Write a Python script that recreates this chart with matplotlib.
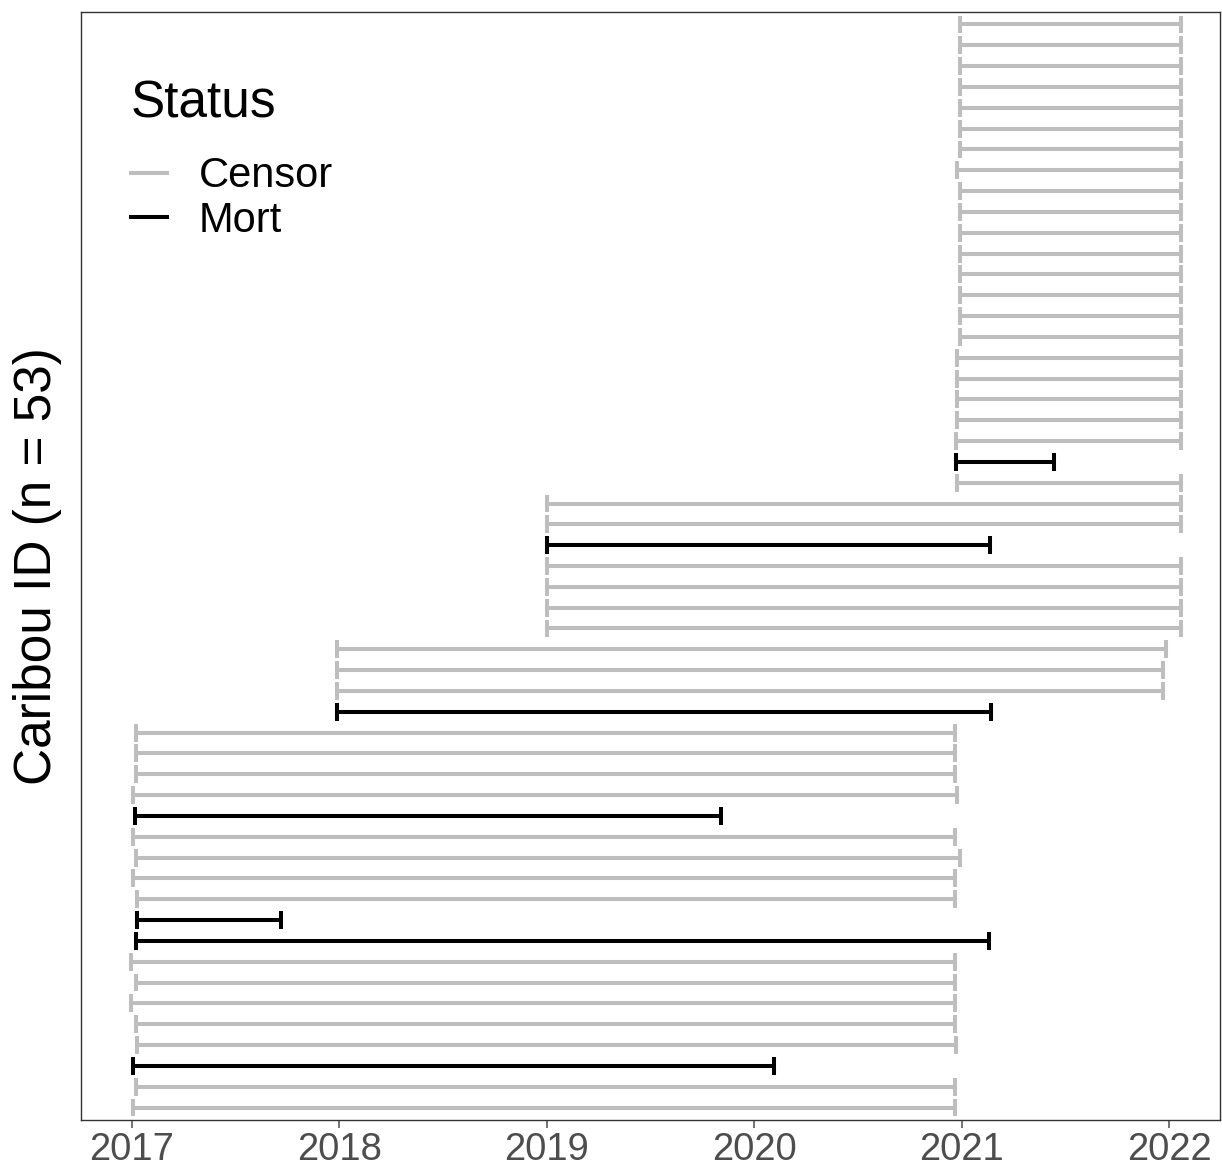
import numpy as np
import matplotlib.pyplot as plt
from matplotlib.lines import Line2D

plt.rcParams['font.family'] = ['Liberation Sans', 'DejaVu Sans']

# collar periods (decimal years), listed from the top row to the bottom row
start = [2020.99, 2020.99, 2020.99, 2020.99, 2020.99, 2020.99, 2020.99, 2020.98,
         2020.99, 2020.99, 2020.99, 2020.99, 2020.99, 2020.99, 2020.99, 2020.99,
         2020.98, 2020.98, 2020.98, 2020.98, 2020.975, 2020.975, 2020.98,
         2019.00, 2019.00, 2019.00, 2019.00, 2019.00, 2019.00, 2019.00,
         2017.99, 2017.99, 2017.99, 2017.99,
         2017.02, 2017.02, 2017.02, 2017.005, 2017.014, 2017.005, 2017.02, 2017.005,
         2017.024, 2017.024, 2017.019, 2016.995, 2017.019, 2016.995, 2017.019,
         2017.024, 2017.005, 2017.019, 2017.005]
end = [2022.06] * 21 + [2021.445, 2022.06,
       2022.06, 2022.06, 2021.135, 2022.06, 2022.06, 2022.06, 2022.06,
       2021.985, 2021.97, 2021.97, 2021.14,
       2020.97, 2020.97, 2020.97, 2020.98, 2019.838, 2020.97, 2020.99, 2020.97,
       2020.97, 2017.719, 2021.131, 2020.97, 2020.97, 2020.97, 2020.97,
       2020.975, 2020.094, 2020.97, 2020.97]
status = ['Censor'] * 21 + ['Mort', 'Censor',
          'Censor', 'Censor', 'Mort', 'Censor', 'Censor', 'Censor', 'Censor',
          'Censor', 'Censor', 'Censor', 'Mort',
          'Censor', 'Censor', 'Censor', 'Censor', 'Mort', 'Censor', 'Censor', 'Censor',
          'Censor', 'Mort', 'Mort', 'Censor', 'Censor', 'Censor', 'Censor',
          'Censor', 'Mort', 'Censor', 'Censor']
years = [2017, 2018, 2019, 2020, 2021, 2022]

colors = {'Censor': '#BEBEBE', 'Mort': '#000000'}
n = len(start)
rows = np.arange(n, 0, -1)

fig = plt.figure(figsize=(12.22, 11.68), dpi=100)
ax = fig.add_axes([81/1222, 1 - 1120/1168, (1220-81)/1222, (1120-12)/1168])

for s in ['Censor', 'Mort']:
    idx = [i for i in range(n) if status[i] == s]
    y = rows[idx]
    x0 = np.array(start)[idx]
    x1 = np.array(end)[idx]
    z = 2 if s == 'Censor' else 3
    ax.hlines(y, x0, x1, color=colors[s], lw=2.9, zorder=z)
    ax.vlines(x0, y - 0.43, y + 0.43, color=colors[s], lw=2.9, zorder=z)
    ax.vlines(x1, y - 0.43, y + 0.43, color=colors[s], lw=2.9, zorder=z)

ax.set_xlim(2016.754, 2022.246)
ax.set_ylim(0.4, n + 0.6)
ax.set_xticks(years)
ax.set_xticklabels([str(v) for v in years])
ax.set_yticks([])
ax.tick_params(axis='x', labelsize=27.5, colors='#4D4D4D', length=6, width=1.1, pad=3)
for sp in ax.spines.values():
    sp.set_color('#333333')
    sp.set_linewidth(1.0)
ax.set_ylabel('Caribou ID (n = 53)', fontsize=37, labelpad=14)

handles = [Line2D([], [], color=colors['Censor'], lw=2.9),
           Line2D([], [], color=colors['Mort'], lw=2.9)]
leg = ax.legend(handles, ['Censor', 'Mort'], title='Status', loc='upper left',
                bbox_to_anchor=(0.029, 0.954), frameon=False, fontsize=30,
                title_fontsize=37, handlelength=0.86, handletextpad=0.77,
                labelspacing=0.1, alignment='left', borderaxespad=0)
leg._legend_box.sep = 20

fig.savefig('out.png', dpi=100)
